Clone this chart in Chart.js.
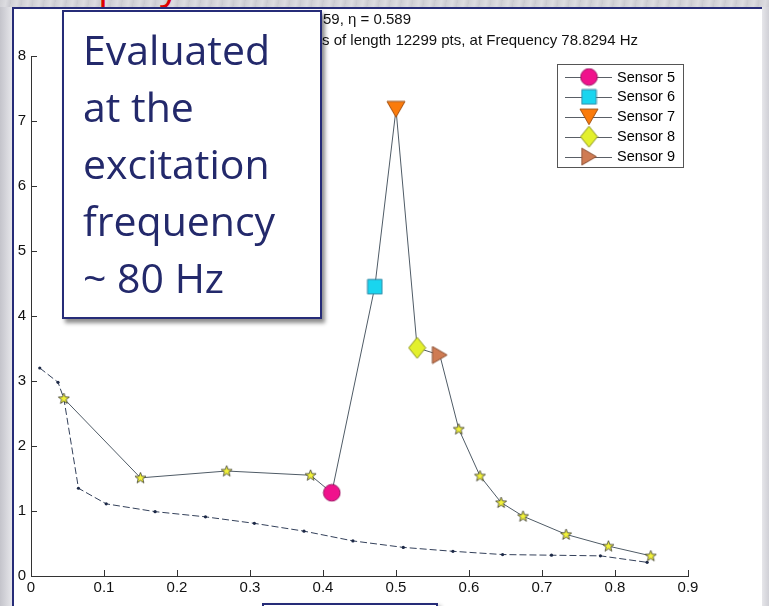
<!DOCTYPE html>
<html>
<head>
<meta charset="utf-8">
<script src="https://cdn.jsdelivr.net/npm/chart.js@4.4.1/dist/chart.umd.min.js"></script>
<style>
  html, body { margin:0; padding:0; }
  body { width:769px; height:606px; position:relative; overflow:hidden; background:#d3d3d8; font-family:"Liberation Sans", Arial, sans-serif; }
  #leftband { position:absolute; left:0; top:0; width:12px; height:606px; background:linear-gradient(to right,#c4c4cb,#e6e6ea); }
  #topband { position:absolute; left:0; top:0; width:769px; height:7px; background:repeating-linear-gradient(100deg,#cfcfd4 0px,#dcdce0 6px,#c9c9cf 11px); overflow:hidden; z-index:1; }
  #topband span { position:absolute; font-family:"Open Sans", sans-serif; font-size:40px; line-height:normal; color:#e00000; top:-45px; }
  #rightband { position:absolute; right:0; top:0; width:7px; height:606px; background:linear-gradient(to right,#e6e6ea,#d0d0d6); }
  #panel { position:absolute; left:12px; top:7px; width:748px; height:700px; background:#fff; border-left:2px solid #262c78; border-top:2px solid #262c78; }
  #c { position:absolute; left:0; top:0; z-index:2; }
  #note { position:absolute; left:62px; top:10px; width:237px; height:296px; box-sizing:content-box; background:#fff; border:2px solid #262c78; box-shadow:3px 4px 4px rgba(0,0,0,0.45); z-index:3; padding:8.6px 0 0 19px; font-family:"Open Sans", sans-serif; font-size:41px; line-height:57px; color:#23296b; white-space:nowrap; overflow:hidden; }
  #bottombox { position:absolute; left:262px; top:603px; width:172px; height:30px; background:#fff; border:2px solid #262c78; box-shadow:3px 3px 4px rgba(0,0,0,0.4); z-index:3; }
</style>
</head>
<body>
<div id="leftband"></div>
<div id="rightband"></div>
<div id="panel"></div>
<div id="topband"><span style="left:98px">p</span><span style="left:160px">y</span></div>
<canvas id="c" width="769" height="606"></canvas>
<div id="note">Evaluated<br>at the<br>excitation<br>frequency<br>~ 80 Hz</div>
<div id="bottombox"></div>
<script>
// ---------------- data ----------------
const xTickValues = [0, 0.1, 0.2, 0.3, 0.4, 0.5, 0.6, 0.7, 0.8, 0.9];
const yTickValues = [0, 1, 2, 3, 4, 5, 6, 7, 8];
const titleLines = ['59, \u03b7 = 0.589', 's of length 12299 pts, at Frequency 78.8294 Hz'];
const sensorNames = ['Sensor 5', 'Sensor 6', 'Sensor 7', 'Sensor 8', 'Sensor 9'];

// solid curve (stars + sensor markers)
const curveX = [0.045, 0.150, 0.268, 0.383, 0.412, 0.471, 0.500, 0.529, 0.560, 0.586, 0.615, 0.644, 0.674, 0.733, 0.791, 0.849];
const curveY = [2.73, 1.51, 1.615, 1.55, 1.28, 4.45, 7.18, 3.51, 3.40, 2.26, 1.54, 1.13, 0.92, 0.64, 0.46, 0.31];
const sensorIndex = [4, 5, 6, 7, 8];

// dashed curve (small dots)
const dashedX = [0.012, 0.037, 0.045, 0.065, 0.103, 0.170, 0.239, 0.306, 0.374, 0.441, 0.510, 0.578, 0.646, 0.713, 0.780, 0.844];
const dashedY = [3.20, 2.98, 2.73, 1.35, 1.11, 0.99, 0.91, 0.81, 0.69, 0.54, 0.44, 0.38, 0.33, 0.32, 0.31, 0.21];

// ---------------- marker images ----------------
function makeCanvas(w, h, draw) {
  const c = document.createElement('canvas');
  c.width = w; c.height = h;
  const g = c.getContext('2d');
  draw(g, w, h);
  return c;
}
function poly(g, pts, fill, stroke) {
  g.beginPath();
  g.moveTo(pts[0][0], pts[0][1]);
  for (let i = 1; i < pts.length; i++) g.lineTo(pts[i][0], pts[i][1]);
  g.closePath();
  g.fillStyle = fill; g.fill();
  g.lineWidth = 1; g.strokeStyle = stroke; g.stroke();
}
const markers = [
  makeCanvas(19, 19, g => { g.beginPath(); g.arc(9.5, 9.5, 8.3, 0, Math.PI * 2); g.fillStyle = '#f0128c'; g.fill(); g.lineWidth = 1; g.strokeStyle = '#9a1060'; g.stroke(); }),
  makeCanvas(17, 17, g => poly(g, [[1.25,1.25],[15.75,1.25],[15.75,15.75],[1.25,15.75]], '#19d5ef', '#2a87a5')),
  makeCanvas(20, 18, g => poly(g, [[1,1.2],[19,1.2],[10,16.8]], '#fb7b0b', '#a35010')),
  makeCanvas(19, 23, g => poly(g, [[9.5,1],[18,11.5],[9.5,22],[1,11.5]], '#e3f02c', '#8a9322')),
  makeCanvas(17, 19, g => poly(g, [[1.2,1],[15.8,9.5],[1.2,18]], '#cf7b53', '#8a4e30'))
];
const starImg = makeCanvas(13, 13, g => {
  const pts = [];
  for (let i = 0; i < 10; i++) {
    const r = i % 2 === 0 ? 5.8 : 2.4;
    const a = -Math.PI / 2 + i * Math.PI / 5;
    pts.push([6.5 + r * Math.cos(a), 6.8 + r * Math.sin(a)]);
  }
  g.beginPath();
  g.moveTo(pts[0][0], pts[0][1]);
  for (let i = 1; i < pts.length; i++) g.lineTo(pts[i][0], pts[i][1]);
  g.closePath();
  g.fillStyle = '#f2f23a'; g.fill();
  g.lineWidth = 0.8; g.strokeStyle = '#3a3a30'; g.stroke();
});

// ---------------- datasets ----------------
const zip = (xs, ys) => xs.map((x, i) => ({ x: x, y: ys[i] }));
const curvePts = zip(curveX, curveY);
const starPts = curvePts.filter((p, i) => sensorIndex.indexOf(i) < 0);

const datasets = [
  { data: zip(dashedX, dashedY), showLine: true, borderColor: '#33405a', borderWidth: 1, borderDash: [7, 3],
    pointRadius: 1.6, pointBackgroundColor: '#1c2846', pointBorderWidth: 0, order: 4 },
  { data: curvePts, showLine: true, borderColor: '#4f5b66', borderWidth: 1, pointRadius: 0, order: 3 },
  { data: starPts, showLine: false, pointStyle: starImg, pointRadius: 5, order: 2 }
];
sensorIndex.forEach((idx, k) => {
  datasets.push({ label: sensorNames[k], data: [curvePts[idx]], showLine: false, pointStyle: markers[k], pointRadius: 8, order: 1 });
});

// ---------------- decorations plugin ----------------
const decor = {
  id: 'decor',
  beforeDatasetsDraw(chart) {
    const ctx = chart.ctx, xs = chart.scales.x, ys = chart.scales.y, a = chart.chartArea;
    ctx.save();
    ctx.strokeStyle = '#333'; ctx.lineWidth = 1;
    ctx.beginPath();
    xTickValues.forEach(v => { const px = Math.round(xs.getPixelForValue(v)) + 0.5; ctx.moveTo(px, a.bottom); ctx.lineTo(px, a.bottom - 6); });
    yTickValues.forEach(v => { const py = Math.round(ys.getPixelForValue(v)) + 0.5; ctx.moveTo(a.left, py); ctx.lineTo(a.left + 6, py); });
    ctx.stroke();
    ctx.restore();
  },
  afterDraw(chart) {
    const ctx = chart.ctx;
    ctx.save();
    // title (visible part)
    ctx.fillStyle = '#111';
    ctx.font = '15px "Liberation Sans", Arial, sans-serif';
    ctx.textBaseline = 'middle';
    ctx.textAlign = 'left';
    ctx.fillText(titleLines[0], 323, 20);
    ctx.fillText(titleLines[1], 322, 41);
    // legend
    const L = 557, T = 64, W = 126, H = 103;
    ctx.fillStyle = '#fff';
    ctx.fillRect(L, T, W, H);
    ctx.strokeStyle = '#555'; ctx.lineWidth = 1;
    ctx.strokeRect(L + 0.5, T + 0.5, W, H);
    ctx.font = '14.5px "Liberation Sans", Arial, sans-serif';
    sensorNames.forEach((name, k) => {
      const y = 77 + k * 19.9;
      ctx.strokeStyle = '#5a5f66';
      ctx.beginPath(); ctx.moveTo(565, Math.round(y) + 0.5); ctx.lineTo(612, Math.round(y) + 0.5); ctx.stroke();
      const m = markers[k];
      ctx.drawImage(m, 589 - m.width / 2, y - m.height / 2);
      ctx.fillStyle = '#000';
      ctx.fillText(name, 617, y + 0.5);
    });
    ctx.restore();
  }
};

const tickFont = { family: '"Liberation Sans", Arial, sans-serif', size: 15 };

new Chart(document.getElementById('c'), {
  type: 'scatter',
  data: { datasets: datasets },
  options: {
    responsive: false,
    animation: false,
    devicePixelRatio: 1,
    layout: { padding: { left: 0, top: 56, right: 81, bottom: 0 } },
    plugins: { legend: { display: false }, tooltip: { enabled: false }, title: { display: false } },
    scales: {
      x: {
        type: 'linear', min: 0, max: 0.9,
        afterBuildTicks: s => { s.ticks = xTickValues.map(v => ({ value: v })); },
        afterFit: s => { s.height = 30; },
        grid: { display: false, drawTicks: false },
        border: { display: true, color: '#333', width: 1 },
        ticks: { padding: 3, color: '#111', font: tickFont, maxRotation: 0, autoSkip: false,
                 callback: v => String(Math.round(v * 10) / 10) }
      },
      y: {
        type: 'linear', min: 0, max: 8,
        afterBuildTicks: s => { s.ticks = yTickValues.map(v => ({ value: v })); },
        afterFit: s => { s.width = 31; },
        grid: { display: false, drawTicks: false },
        border: { display: true, color: '#333', width: 1 },
        ticks: { padding: 5, color: '#111', font: tickFont, autoSkip: false,
                 callback: v => String(v) }
      }
    }
  },
  plugins: [decor]
});
</script>
</body>
</html>
